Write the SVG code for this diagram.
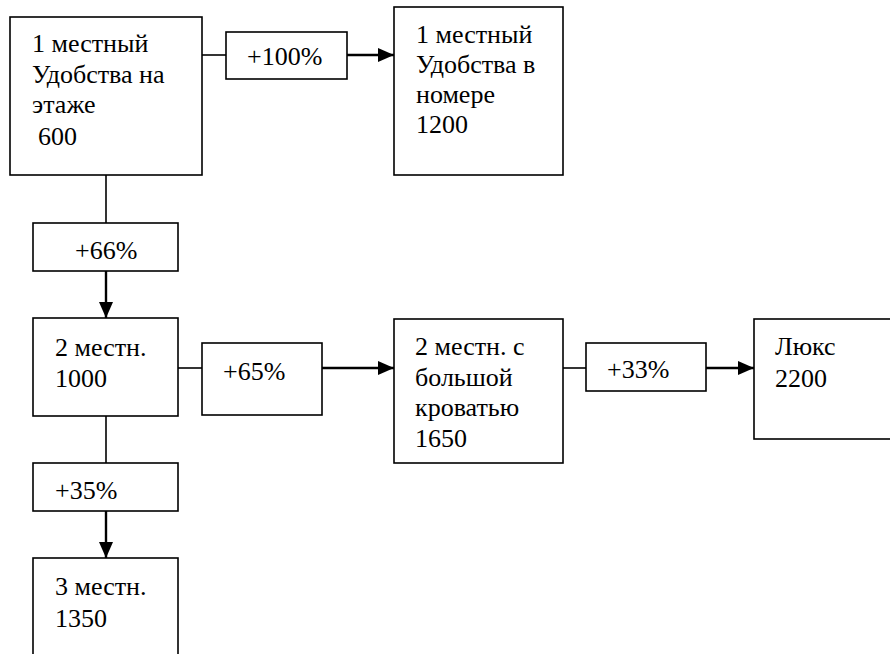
<svg xmlns="http://www.w3.org/2000/svg" width="890" height="654" viewBox="0 0 890 654">
<defs>
<marker id="ah" markerUnits="userSpaceOnUse" markerWidth="16" markerHeight="14" refX="16" refY="7" orient="auto">
<path d="M0,0 L16,7 L0,14 Z" fill="#000"/>
</marker>
</defs>
<style>
rect{fill:#fff;stroke:#000;stroke-width:1.6}
text{font-size:26px;fill:#000}
.ln{stroke:#000;stroke-width:1.6;fill:none}
.ar{stroke:#000;stroke-width:2.4;fill:none}
</style>
<rect x="0" y="0" width="890" height="654" style="stroke:none;fill:#fff"/>
<g id="connectors">
<line class="ln" x1="202" y1="55" x2="226" y2="55"/>
<line class="ar" x1="347" y1="55" x2="394" y2="55" marker-end="url(#ah)"/>
<line class="ln" x1="106" y1="175" x2="106" y2="223"/>
<line class="ar" x1="106" y1="271" x2="106" y2="318" marker-end="url(#ah)"/>
<line class="ln" x1="178" y1="368" x2="202" y2="368"/>
<line class="ar" x1="322" y1="368" x2="394" y2="368" marker-end="url(#ah)"/>
<line class="ln" x1="563" y1="368" x2="586" y2="368"/>
<line class="ar" x1="706" y1="368" x2="754" y2="368" marker-end="url(#ah)"/>
<line class="ln" x1="106" y1="416" x2="106" y2="463"/>
<line class="ar" x1="106" y1="511" x2="106" y2="558" marker-end="url(#ah)"/>
</g>
<g font-family="'Liberation Serif', 'Times New Roman', 'DejaVu Serif', serif">
<g id="n1">
<rect x="10" y="17" width="192" height="158"/>
<text x="32" y="52">1 местный</text>
<text x="32" y="83">Удобства на</text>
<text x="32" y="113">этаже</text>
<text x="38" y="145">600</text>
</g>
<g id="l100">
<rect x="226" y="32" width="121" height="47"/>
<text x="247" y="65">+100%</text>
</g>
<g id="n2">
<rect x="394" y="7" width="169" height="168"/>
<text x="416" y="43">1 местный</text>
<text x="416" y="73">Удобства в</text>
<text x="416" y="103">номере</text>
<text x="416" y="133">1200</text>
</g>
<g id="l66">
<rect x="33" y="223" width="145" height="48"/>
<text x="75" y="259">+66%</text>
</g>
<g id="n3">
<rect x="33" y="318" width="145" height="98"/>
<text x="55" y="356">2 местн.</text>
<text x="55" y="387">1000</text>
</g>
<g id="l65">
<rect x="202" y="343" width="120" height="72"/>
<text x="223" y="380">+65%</text>
</g>
<g id="n4">
<rect x="394" y="319" width="169" height="144"/>
<text x="415" y="355">2 местн. с</text>
<text x="415" y="386">большой</text>
<text x="415" y="416">кроватью</text>
<text x="415" y="447">1650</text>
</g>
<g id="l33">
<rect x="586" y="343" width="120" height="48"/>
<text x="607" y="378">+33%</text>
</g>
<g id="n5">
<rect x="754" y="319" width="150" height="120"/>
<text x="775" y="355">Люкс</text>
<text x="775" y="387">2200</text>
</g>
<g id="l35">
<rect x="33" y="463" width="145" height="48"/>
<text x="55" y="499">+35%</text>
</g>
<g id="n6">
<rect x="33" y="558" width="145" height="110"/>
<text x="55" y="595">3 местн.</text>
<text x="55" y="627">1350</text>
</g>
</g>
</svg>
